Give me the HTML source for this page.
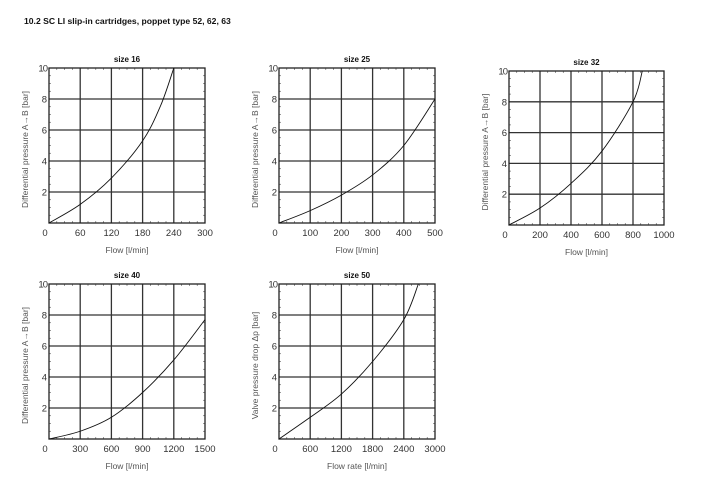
<!DOCTYPE html>
<html><head><meta charset="utf-8"><style>
html,body{margin:0;padding:0;background:#fff;}
svg{display:block;font-family:"Liberation Sans",sans-serif;}
</style></head><body>
<svg id="s" width="725" height="498" viewBox="0 0 725 498" xmlns="http://www.w3.org/2000/svg">
<text x="24" y="24" font-size="8.6" font-weight="bold" fill="#111">10.2  SC LI  slip-in cartridges, poppet type 52, 62, 63</text>
</svg>
<script>
const s=document.getElementById('s');
const NS='http://www.w3.org/2000/svg';
function el(t,a,txt){const e=document.createElementNS(NS,t);for(const k in a)e.setAttribute(k,a[k]);if(txt!==undefined)e.textContent=txt;s.appendChild(e);return e;}
const charts=[
 {x0:49,x1:205,y0:68,y1:223,title:'size 16',xmax:300,xt:[0,60,120,180,240,300],xl:'Flow [l/min]',yl:'Differential pressure A\u2192B [bar]',
  pts:[[0,0],[60,1.2],[120,2.9],[180,5.3],[215,7.6],[240,10]]},
 {x0:279,x1:435,y0:68,y1:223,title:'size 25',xmax:500,xt:[0,100,200,300,400,500],xl:'Flow [l/min]',yl:'Differential pressure A\u2192B [bar]',
  pts:[[0,0],[100,0.8],[200,1.8],[300,3.1],[400,5],[500,8]]},
 {x0:509,x1:664,y0:71,y1:225,title:'size 32',xmax:1000,xt:[0,200,400,600,800,1000],xl:'Flow [l/min]',yl:'Differential pressure A\u2192B [bar]',
  pts:[[0,0],[200,1.1],[400,2.7],[600,4.8],[800,8],[860,10]]},
 {x0:49,x1:205,y0:284,y1:439,title:'size 40',xmax:1500,xt:[0,300,600,900,1200,1500],xl:'Flow [l/min]',yl:'Differential pressure A\u2192B [bar]',
  pts:[[0,0],[300,0.5],[600,1.4],[900,3],[1200,5.1],[1500,7.7]]},
 {x0:279,x1:435,y0:284,y1:439,title:'size 50',xmax:3000,xt:[0,600,1200,1800,2400,3000],xl:'Flow rate [l/min]',yl:'Valve pressure drop \u0394p [bar]',
  pts:[[0,0],[600,1.4],[1200,2.9],[1800,5],[2400,7.7],[2680,10]]}
];
charts.forEach(c=>{
 const W=c.x1-c.x0,H=c.y1-c.y0;
 const X=v=>c.x0+v/c.xmax*W, Y=v=>c.y1-v/10*H;
 for(let i=1;i<5;i++){
  el('line',{x1:c.x0+i*W/5,x2:c.x0+i*W/5,y1:c.y0,y2:c.y1,stroke:'#333','stroke-width':1.3});
  el('line',{x1:c.x0,x2:c.x1,y1:c.y0+i*H/5,y2:c.y0+i*H/5,stroke:'#333','stroke-width':1.3});
 }
 for(let i=1;i<20;i++){ if(i%4==0)continue;
  const xx=c.x0+i*W/20, yy=c.y0+i*H/20;
  el('line',{x1:xx,x2:xx,y1:c.y0,y2:c.y0+2,stroke:'#555','stroke-width':0.6});
  el('line',{x1:xx,x2:xx,y1:c.y1,y2:c.y1-2,stroke:'#555','stroke-width':0.6});
  el('line',{x1:c.x0,x2:c.x0+2,y1:yy,y2:yy,stroke:'#555','stroke-width':0.6});
  el('line',{x1:c.x1,x2:c.x1-2,y1:yy,y2:yy,stroke:'#555','stroke-width':0.6});
 }
 el('rect',{x:c.x0,y:c.y0,width:W,height:H,fill:'none',stroke:'#222','stroke-width':1.3});
 const p=c.pts.map(q=>[X(q[0]),Y(q[1])]);
 let d='M'+p[0][0]+' '+p[0][1];
 for(let i=0;i<p.length-1;i++){
  const p0=p[i-1]||p[i],p1=p[i],p2=p[i+1],p3=p[i+2]||p2;
  d+=' C'+(p1[0]+(p2[0]-p0[0])/6)+' '+(p1[1]+(p2[1]-p0[1])/6)+' '+(p2[0]-(p3[0]-p1[0])/6)+' '+(p2[1]-(p3[1]-p1[1])/6)+' '+p2[0]+' '+p2[1];
 }
 el('path',{d:d,fill:'none',stroke:'#111','stroke-width':0.9});
 el('text',{x:(c.x0+c.x1)/2,y:c.y0-6,'font-size':8,'font-weight':'bold','text-anchor':'middle',fill:'#111'},c.title);
 c.xt.forEach((v,i)=>el('text',{x:X(v)+(i==0?-4:0),y:c.y1+13,'font-size':9.5,'text-anchor':'middle',fill:'#333'},String(v)));
 [2,4,6,8,10].forEach(v=>el('text',{x:c.x0-2,y:Y(v)+3.5,'font-size':9.5,'text-anchor':'end',fill:'#333','letter-spacing':v==10?-1:0},String(v)));
 el('text',{x:(c.x0+c.x1)/2,y:c.y1+30,'font-size':8.5,'text-anchor':'middle',fill:'#555'},c.xl);
 const lx=c.x0-21, ly=(c.y0+c.y1)/2+4;
 el('text',{x:lx,y:ly,'font-size':8.5,'text-anchor':'middle',fill:'#555',transform:'rotate(-90 '+lx+' '+ly+')'},c.yl);
});
</script>
</body></html>
